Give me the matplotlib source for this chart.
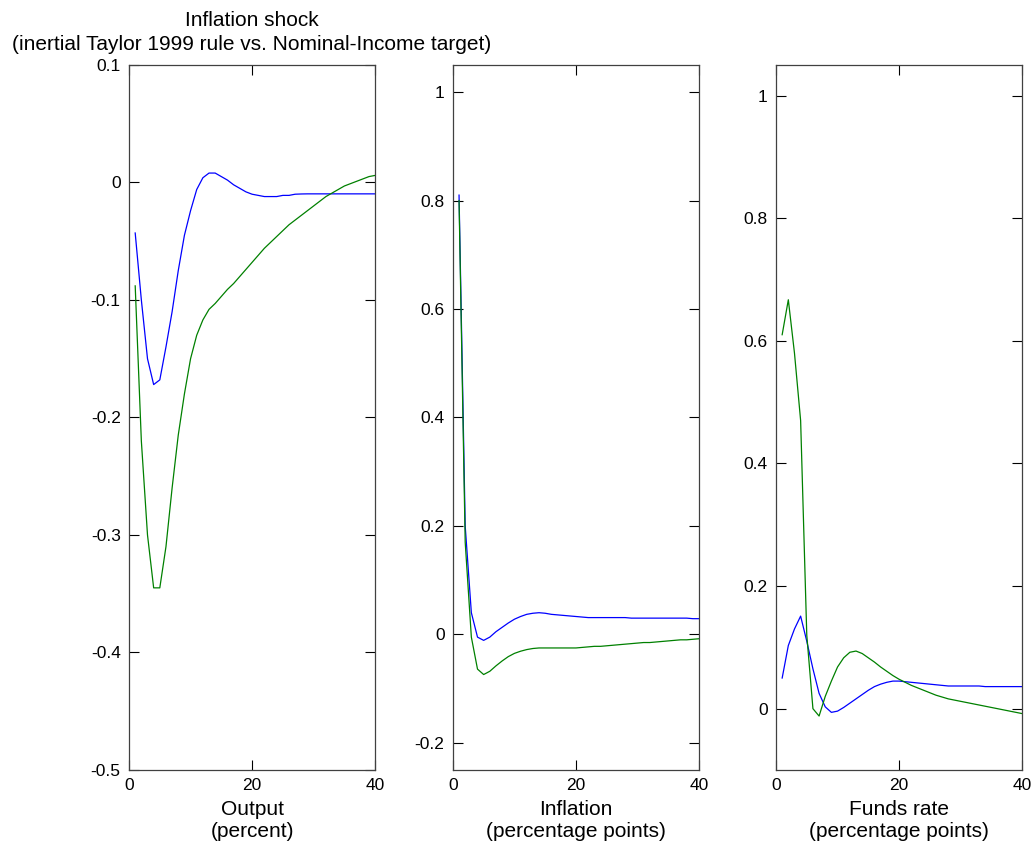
import numpy as np
import matplotlib
matplotlib.use("Agg")
import matplotlib.pyplot as plt

plt.rcParams['font.family'] = ['Liberation Sans', 'DejaVu Sans']
plt.rcParams['axes.unicode_minus'] = False

quarters = np.arange(1, 41)

# Output (percent)
output_taylor = [-0.043, -0.10, -0.15, -0.172, -0.168, -0.14, -0.11, -0.075, -0.045, -0.024,
                 -0.006, 0.004, 0.008, 0.008, 0.005, 0.002, -0.002, -0.005, -0.008, -0.010,
                 -0.011, -0.012, -0.012, -0.012, -0.011, -0.011, -0.010, -0.0098, -0.0097, -0.0097,
                 -0.0097, -0.0097, -0.0097, -0.0097, -0.0097, -0.0097, -0.0097, -0.0097, -0.0097, -0.0097]
output_nominal = [-0.088, -0.22, -0.30, -0.345, -0.345, -0.31, -0.26, -0.215, -0.18, -0.15,
                  -0.13, -0.117, -0.108, -0.103, -0.097, -0.091, -0.086, -0.080, -0.074, -0.068,
                  -0.062, -0.056, -0.051, -0.046, -0.041, -0.036, -0.032, -0.028, -0.024, -0.020,
                  -0.016, -0.012, -0.009, -0.006, -0.003, -0.001, 0.001, 0.003, 0.005, 0.006]

# Inflation (percentage points)
infl_taylor = [0.81, 0.20, 0.04, -0.005, -0.011, -0.005, 0.005, 0.013, 0.021, 0.028,
               0.033, 0.037, 0.039, 0.040, 0.039, 0.037, 0.036, 0.035, 0.034, 0.033,
               0.032, 0.031, 0.031, 0.031, 0.031, 0.031, 0.031, 0.031, 0.030, 0.030,
               0.030, 0.030, 0.030, 0.030, 0.030, 0.030, 0.030, 0.030, 0.029, 0.029]
infl_nominal = [0.80, 0.17, -0.005, -0.064, -0.074, -0.068, -0.058, -0.049, -0.041, -0.035,
                -0.031, -0.028, -0.026, -0.025, -0.025, -0.025, -0.025, -0.025, -0.025, -0.025,
                -0.024, -0.023, -0.022, -0.022, -0.021, -0.020, -0.019, -0.018, -0.017, -0.016,
                -0.015, -0.015, -0.014, -0.013, -0.012, -0.011, -0.010, -0.010, -0.009, -0.008]

# Funds rate (percentage points)
funds_taylor = [0.05, 0.103, 0.13, 0.151, 0.11, 0.065, 0.025, 0.003, -0.006, -0.004,
                0.002, 0.009, 0.016, 0.023, 0.030, 0.036, 0.040, 0.043, 0.045, 0.045,
                0.044, 0.043, 0.042, 0.041, 0.040, 0.039, 0.038, 0.037, 0.037, 0.037,
                0.037, 0.037, 0.037, 0.036, 0.036, 0.036, 0.036, 0.036, 0.036, 0.036]
funds_nominal = [0.61, 0.667, 0.58, 0.47, 0.12, 0.0, -0.012, 0.02, 0.045, 0.068,
                 0.083, 0.092, 0.094, 0.090, 0.083, 0.076, 0.068, 0.061, 0.054, 0.048,
                 0.043, 0.038, 0.034, 0.030, 0.026, 0.022, 0.019, 0.016, 0.014, 0.012,
                 0.010, 0.008, 0.006, 0.004, 0.002, 0.000, -0.002, -0.004, -0.006, -0.008]

panels = [
    (output_taylor, output_nominal, 'Output\n(percent)', (-0.5, 0.1), np.arange(-0.5, 0.11, 0.1)),
    (infl_taylor, infl_nominal, 'Inflation\n(percentage points)', (-0.25, 1.05), np.arange(-0.2, 1.01, 0.2)),
    (funds_taylor, funds_nominal, 'Funds rate\n(percentage points)', (-0.1, 1.05), np.arange(0, 1.01, 0.2)),
]
lefts = [0.1248, 0.438, 0.7505]


def fmt(v):
    v = round(v, 2)
    return '0' if abs(v) < 1e-9 else '%g' % v


fig = plt.figure(figsize=(10.34, 8.48), dpi=100)
axes = []
for left, (taylor, nominal, label, ylim, yticks) in zip(lefts, panels):
    ax = fig.add_axes([left, 0.092, 0.238, 0.8314])
    ax.plot(quarters, taylor, color=(0, 0, 1), lw=0.9)
    ax.plot(quarters, nominal, color=(0, 0.5, 0), lw=0.9)
    ax.set_xlim(0, 40)
    ax.set_ylim(*ylim)
    ax.set_xticks([0, 20, 40])
    ax.set_yticks(yticks)
    ax.set_yticklabels([fmt(v) for v in yticks])
    ax.tick_params(direction='in', top=True, right=True, length=7, width=0.8,
                   labelsize=12.5, colors='black', pad=6)
    for s in ax.spines.values():
        s.set_color('#404040')
        s.set_linewidth(0.9)
    ax.set_xlabel(label, fontsize=15, labelpad=5, linespacing=1.2)
    axes.append(ax)

axes[0].set_title('Inflation shock\n(inertial Taylor 1999 rule vs. Nominal-Income target)',
                  fontsize=15, pad=11, linespacing=1.3)

fig.savefig('out.png', dpi=100)
